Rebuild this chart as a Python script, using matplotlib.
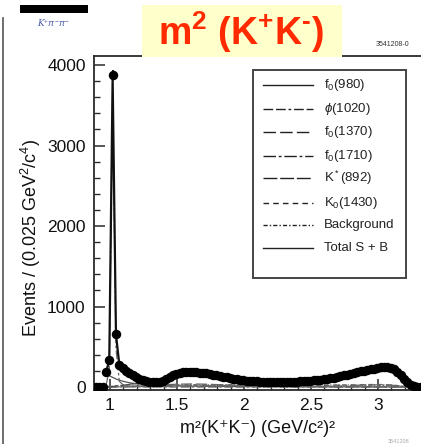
import numpy as np
import matplotlib
matplotlib.use("Agg")
import matplotlib.pyplot as plt
from matplotlib.lines import Line2D
from matplotlib.patches import Rectangle

plt.rcParams['font.family'] = ['Liberation Sans', 'DejaVu Sans']
plt.rcParams['mathtext.fontset'] = 'custom'
plt.rcParams['mathtext.rm'] = 'Liberation Sans'
plt.rcParams['mathtext.it'] = 'Liberation Sans:italic'
plt.rcParams['mathtext.bf'] = 'Liberation Sans:bold'

# ---------------- data ----------------
bin_start = 0.895
bin_width = 0.025
events = [0, 0, 0, 185, 340, 3880, 660, 275, 240, 205,
          175, 150, 125, 105, 90, 78, 68, 60, 58, 62,
          75, 95, 120, 145, 165, 178, 185, 188, 186, 190,
          185, 180, 176, 170, 160, 152, 145, 138, 130, 122,
          113, 105, 98, 92, 86, 80, 76, 72, 70, 68,
          66, 64, 63, 62, 62, 61, 62, 63, 64, 66,
          68, 70, 73, 76, 80, 84, 88, 92, 97, 103,
          110, 118, 126, 135, 145, 155, 165, 175, 185, 195,
          205, 213, 222, 230, 238, 245, 250, 248, 240, 222,
          190, 150, 105, 65, 30, 8, 0, 0, 0]

comp_x = [0.97, 0.995, 1.02, 1.045, 1.07, 1.1, 1.15, 1.2, 1.3, 1.4, 1.5, 1.6,
          1.7, 1.8, 1.9, 2.0, 2.2, 2.4, 2.6, 2.7, 2.8, 2.9, 3.0, 3.05, 3.1,
          3.15, 3.2, 3.25, 3.29]
total_fit = [180, 330, 3850, 650, 280, 235, 170, 125, 70, 65, 155, 185,
             178, 145, 112, 86, 63, 63, 92, 120, 168, 208, 240, 248, 235,
             185, 110, 35, 0]
f0_980 = [150, 140, 120, 100, 85, 70, 52, 40, 25, 18, 14, 11,
          9, 7, 6, 5, 4, 3, 3, 2, 2, 2, 2, 1, 1, 1, 1, 0, 0]
phi_1020 = [20, 200, 3650, 480, 70, 25, 8, 4, 2, 1, 0, 0,
            0, 0, 0, 0, 0, 0, 0, 0, 0, 0, 0, 0, 0, 0, 0, 0, 0]
f0_1370 = [0, 0, 2, 3, 4, 5, 8, 12, 20, 28, 35, 38,
           36, 30, 24, 18, 10, 6, 4, 3, 3, 2, 2, 2, 1, 1, 1, 0, 0]
f0_1710 = [0, 0, 0, 0, 0, 1, 1, 2, 3, 5, 8, 12,
           16, 18, 17, 14, 9, 6, 8, 12, 18, 24, 28, 26, 22, 16, 8, 3, 0]
kst_892 = [0, 2, 5, 10, 15, 20, 35, 50, 40, 70, 120, 140,
           125, 95, 65, 45, 30, 28, 50, 80, 125, 165, 190, 195, 185,
           145, 85, 25, 0]
k0_1430 = [0, 0, 1, 2, 3, 4, 6, 8, 10, 14, 18, 22,
           24, 22, 20, 17, 14, 14, 18, 22, 26, 30, 32, 30, 26, 18, 10, 3, 0]
background = [0, 10, 14, 18, 20, 22, 24, 25, 26, 27, 27, 28,
              28, 28, 28, 28, 27, 27, 26, 25, 24, 22, 20, 18, 15, 11, 6, 2, 0]

legend_labels = [r'f$_0$(980)', r'$\phi$(1020)', r'f$_0$(1370)', r'f$_0$(1710)',
                 r'K$^*$(892)', r'K$_0$(1430)', 'Background', 'Total S + B']

# ---------------- figure ----------------
W, H = 421, 444
fig = plt.figure(figsize=(W / 100, H / 100), dpi=100)

def fx(px):
    return px / W

def fy(py):
    return 1 - py / H

ax_l, ax_r, ax_t, ax_b = 94, 440, 56, 390
ax = fig.add_axes([fx(ax_l), fy(ax_b), (ax_r - ax_l) / W, (ax_b - ax_t) / H])
ax.set_xlim(0.881, 3.463)
ax.set_ylim(-37, 4112)

ink = '#2a2a2a'
x = bin_start + bin_width * np.arange(len(events))
y = np.array(events, dtype=float)
ax.errorbar(x, y, yerr=np.sqrt(y), fmt='o', color='black', ms=5.8,
            elinewidth=1.2, capsize=0, zorder=5)

line_styles = ['-', (0, (7, 2, 7, 2, 2, 2)), (0, (9, 3)), (0, (9, 2, 2, 2)),
               (0, (10, 2)), (0, (4, 3)), (0, (3, 1.5, 1, 1.5)), '-']
components = [f0_980, phi_1020, f0_1370, f0_1710, kst_892, k0_1430, background, total_fit]
comp_colors = ['#555555', '#666666', '#666666', '#666666', '#444444', '#666666', '#666666', '#111111']
comp_lw = [0.9, 0.9, 0.9, 0.9, 0.9, 0.9, 0.9, 1.6]
for vals, ls, c, lw in zip(components, line_styles, comp_colors, comp_lw):
    ax.plot(comp_x, vals, ls=ls, color=c, lw=lw, zorder=4)

for s in ax.spines.values():
    s.set_color(ink)
    s.set_linewidth(1.3)
ax.set_yticks([0, 1000, 2000, 3000, 4000])
ax.set_yticks(np.arange(0, 4100, 200), minor=True)
ax.set_xticks([1, 1.5, 2, 2.5, 3])
ax.set_xticklabels(['1', '1.5', '2', '2.5', '3'])
ax.set_xticks(np.arange(0.9, 3.45, 0.1), minor=True)
ax.tick_params(axis='both', which='major', direction='in', length=8, width=1.1,
               color=ink, labelsize=12.5, labelcolor='#111111')
ax.tick_params(axis='both', which='minor', direction='in', length=4, width=1.0, color=ink)
ax.tick_params(axis='y', which='major', pad=6)
ax.tick_params(axis='x', which='major', pad=6)

fig.text(fx(31), fy(238), r'Events / (0.025 GeV$^2$/c$^4$)', rotation=90,
         ha='center', va='center', fontsize=13, color='#111111')
fig.text(fx(258), fy(428), 'm²(K⁺K⁻) (GeV/c²)²',
         ha='center', va='center', fontsize=13, color='#111111')

# legend box drawn in figure pixels
fig.patches.append(Rectangle((fx(253), fy(278)), (406 - 253) / W, (278 - 70) / H,
                             transform=fig.transFigure, facecolor='white',
                             edgecolor='#444444', lw=1.4, zorder=6))
row_y = [85, 109, 132, 156, 178, 203, 225, 248]
for lab, ls, ry in zip(legend_labels, line_styles, row_y):
    fig.lines.append(Line2D([fx(263), fx(313)], [fy(ry), fy(ry)], transform=fig.transFigure,
                            ls=ls, color='#222222', lw=1.0, zorder=7))
    fig.text(fx(324), fy(ry), lab, ha='left', va='center', fontsize=9.5,
             color='#222222', zorder=7)

# slide decorations
title_text = r'm$^{\mathbf{2}}$ (K$^{\mathbf{+}}$K$^{\mathbf{' + '\u2010' + r'}}$)'
fig.patches.append(Rectangle((fx(142), fy(57)), 200 / W, 52 / H, transform=fig.transFigure,
                             facecolor='#ffffcc', edgecolor='none', zorder=8))
fig.text(fx(241), fy(32), title_text,
         ha='center', va='center', fontsize=27, fontweight='bold', color='#ff2a00', zorder=9)
fig.patches.append(Rectangle((fx(20), fy(13)), 68 / W, 8 / H, transform=fig.transFigure,
                             facecolor='black', edgecolor='none', zorder=8))
fig.text(fx(54), fy(23), r'K$^{+}\pi^{-}\pi^{-}$', ha='center', va='center', fontsize=6.5,
         color='#4a5aa8', fontstyle='italic', family='DejaVu Serif', zorder=9)
fig.lines.append(Line2D([fx(3), fx(3)], [fy(18), fy(444)], transform=fig.transFigure,
                        color='#555555', lw=1.2))
fig.text(fx(376), fy(45), '3541208-0', ha='left', va='center', fontsize=5, color='#333333')
fig.text(fx(388), fy(441), '3541208', ha='left', va='center', fontsize=4, color='#aaaaaa')

fig.savefig('out.png', dpi=100)
